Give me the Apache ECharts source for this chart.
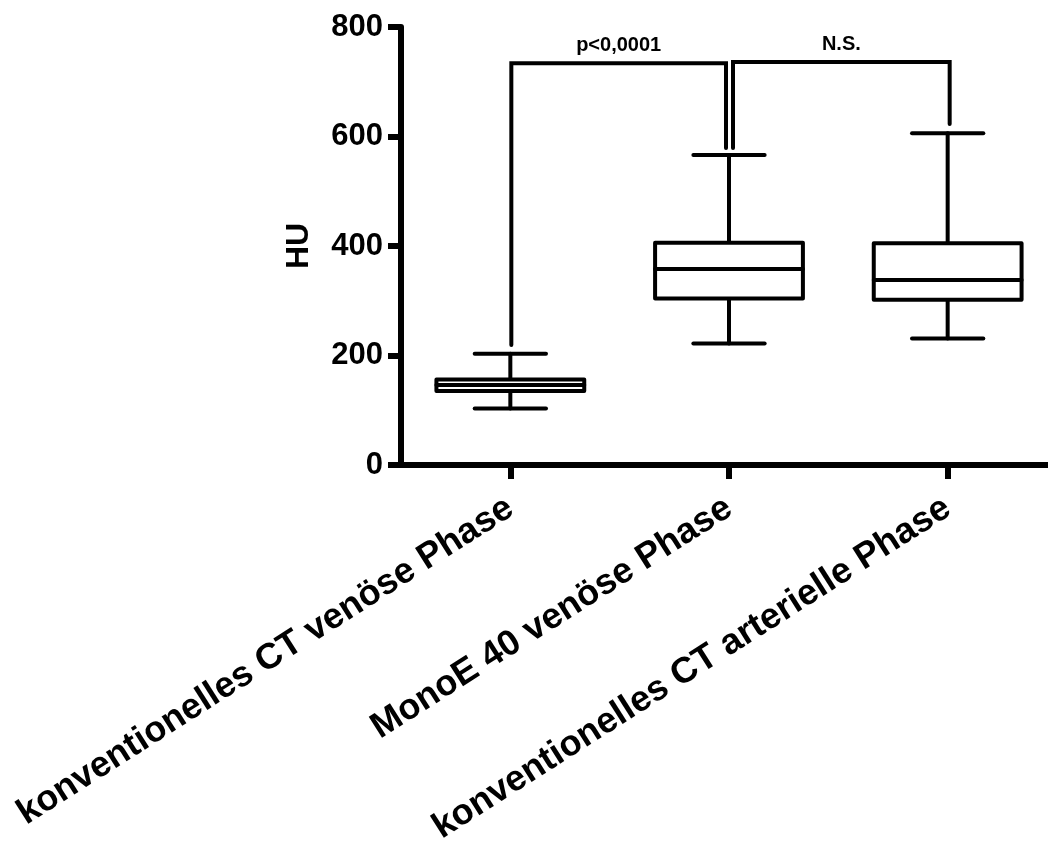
<!DOCTYPE html>
<html>
<head>
<meta charset="utf-8">
<title>HU Boxplot</title>
<script src="https://cdn.jsdelivr.net/npm/echarts@6/dist/echarts.min.js"></script>
<style>
    html, body { margin: 0; padding: 0; background: #fff; }
    #boxchart { width: 1048px; height: 843px; }
</style>
</head>
<body>
<div id="boxchart"></div>
<script>
var categories = ['konventionelles CT venöse Phase', 'MonoE 40 venöse Phase', 'konventionelles CT arterielle Phase'];
var minValues = [103, 222, 231];
var q1Values = [135, 304, 302];
var medianValues = [146, 358, 338];
var q3Values = [156, 406, 405];
var maxValues = [203, 566, 606];
var yTicks = [0, 200, 400, 600, 800];

// Signifikanz-Klammern
var bracketFrom = [0, 1];
var bracketTo = [1, 2];
var bracketTop = [734, 736];
var bracketFromBottom = [219, 579];
var bracketToBottom = [579, 623];
var bracketLabels = ['p<0,0001', 'N.S.'];

var fontFam = '"Liberation Sans", Arial, sans-serif';

var boxData = [];
for (var i = 0; i < categories.length; i++) {
    boxData.push([i, minValues[i], q1Values[i], medianValues[i], q3Values[i], maxValues[i]]);
}
var bracketData = [];
for (var j = 0; j < bracketFrom.length; j++) {
    bracketData.push([bracketFrom[j], bracketTop[j], bracketTo[j], bracketFromBottom[j], bracketToBottom[j], j]);
}

var lineStyle = { stroke: '#000', lineWidth: 4, fill: null, lineCap: 'round', lineJoin: 'round' };

function renderBox(params, api) {
    var idx = api.value(0);
    var band = api.size([1, 0])[0];
    var half = band * 0.338;
    var capHalf = band * 0.163;
    var pMin = api.coord([idx, api.value(1)]);
    var pQ1 = api.coord([idx, api.value(2)]);
    var pMed = api.coord([idx, api.value(3)]);
    var pQ3 = api.coord([idx, api.value(4)]);
    var pMax = api.coord([idx, api.value(5)]);
    var x = pMed[0];
    return {
        type: 'group',
        children: [
            { type: 'line', shape: { x1: x, y1: pQ3[1], x2: x, y2: pMax[1] }, style: lineStyle },
            { type: 'line', shape: { x1: x, y1: pQ1[1], x2: x, y2: pMin[1] }, style: lineStyle },
            { type: 'line', shape: { x1: x - capHalf, y1: pMax[1], x2: x + capHalf, y2: pMax[1] }, style: lineStyle },
            { type: 'line', shape: { x1: x - capHalf, y1: pMin[1], x2: x + capHalf, y2: pMin[1] }, style: lineStyle },
            { type: 'rect', shape: { x: x - half, y: pQ3[1], width: half * 2, height: pQ1[1] - pQ3[1] },
              style: { stroke: '#000', lineWidth: 4, fill: '#fff', lineJoin: 'round' } },
            { type: 'line', shape: { x1: x - half, y1: pMed[1], x2: x + half, y2: pMed[1] }, style: lineStyle }
        ]
    };
}

function renderBracket(params, api) {
    var a = api.coord([api.value(0), api.value(1)]);
    var b = api.coord([api.value(2), api.value(1)]);
    var aBottom = api.coord([api.value(0), api.value(3)]);
    var bBottom = api.coord([api.value(2), api.value(4)]);
    var k = api.value(5);
    // Beine an der gemeinsamen Kategorie leicht versetzt
    var dxA = k === 0 ? 1 : 4;
    var dxB = k === 0 ? -3 : 2;
    var xa = a[0] + dxA;
    var xb = b[0] + dxB;
    return {
        type: 'group',
        children: [
            { type: 'polyline', shape: { points: [[xa, aBottom[1]], [xa, a[1]], [xb, b[1]], [xb, bBottom[1]]] },
              style: { stroke: '#000', lineWidth: 4, fill: null, lineCap: 'round', lineJoin: 'miter' } },
            { type: 'text', style: { text: bracketLabels[k], x: (xa + xb) / 2, y: a[1] - 18,
                align: 'center', verticalAlign: 'middle', fill: '#000',
                fontSize: 20, fontWeight: 'bold', fontFamily: fontFam } }
        ]
    };
}

var chart = echarts.init(document.getElementById('boxchart'));
chart.setOption({
    animation: false,
    backgroundColor: '#fff',
    grid: { left: 401, top: 27, width: 656, height: 438, containLabel: false, outerBoundsMode: 'none' },
    xAxis: {
        type: 'category',
        data: categories,
        axisLine: { lineStyle: { color: '#000', width: 6 } },
        axisTick: { show: true, alignWithLabel: true, length: 14, lineStyle: { color: '#000', width: 6 } },
        axisLabel: { rotate: 32.5, margin: 40, color: '#000', fontSize: 36, fontWeight: 'bold', fontFamily: fontFam, interval: 0 },
        splitLine: { show: false }
    },
    yAxis: {
        type: 'value',
        min: yTicks[0],
        max: yTicks[yTicks.length - 1],
        interval: yTicks[1] - yTicks[0],
        name: 'HU',
        nameLocation: 'middle',
        nameRotate: 90,
        nameGap: 86,
        nameTextStyle: { color: '#000', fontSize: 32, fontWeight: 'bold', fontFamily: fontFam },
        axisLine: { show: true, lineStyle: { color: '#000', width: 6 } },
        axisTick: { show: true, length: 13, lineStyle: { color: '#000', width: 6 } },
        axisLabel: { margin: 18, color: '#000', fontSize: 31, fontWeight: 'bold', fontFamily: fontFam },
        splitLine: { show: false }
    },
    series: [
        {
            type: 'custom',
            renderItem: renderBox,
            encode: { x: 0, y: [1, 2, 3, 4, 5] },
            data: boxData,
            z: 3
        },
        {
            type: 'custom',
            renderItem: renderBracket,
            encode: { x: 0, y: 1 },
            data: bracketData,
            z: 4
        }
    ]
});
</script>
</body>
</html>
